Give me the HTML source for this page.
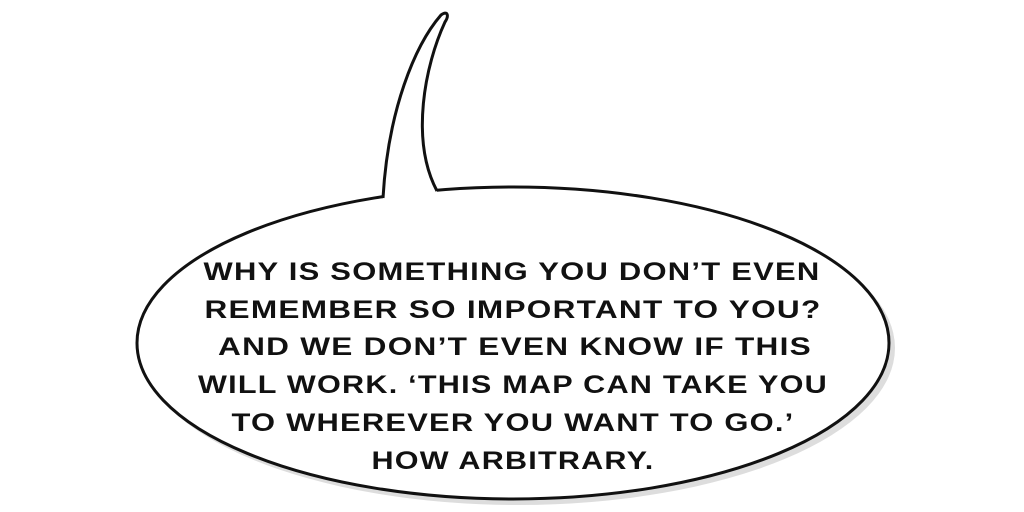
<!DOCTYPE html>
<html><head><meta charset="utf-8"><style>
html,body{margin:0;padding:0;background:#fff;width:1024px;height:512px;overflow:hidden}
svg{display:block}
text{font-family:"Liberation Sans",sans-serif;font-size:25px;font-weight:bold;fill:#111;text-anchor:middle;letter-spacing:1px}
</style></head><body>
<svg width="1024" height="512" viewBox="0 0 1024 512">
  <g>
    <ellipse cx="515" cy="345" rx="377" ry="157" fill="#ddd" transform="translate(3,3)"/>
    <ellipse cx="513" cy="343" rx="376" ry="156" fill="#fff" stroke="#111" stroke-width="3"/>
    <path d="M 383 198 C 388 110, 415 45, 441 15 C 448 10, 449 16, 445 22 C 425 65, 410 140, 437 191 L 437 200 L 383 205 Z" fill="#fff"/>
    <path d="M 383 198 C 388 110, 415 45, 441 15 C 448 10, 449 16, 445 22 C 425 65, 410 140, 437 191" fill="none" stroke="#111" stroke-width="3" stroke-linejoin="round"/>
  </g>
  <g>
    <text x="512" y="280" textLength="617" lengthAdjust="spacingAndGlyphs">WHY IS SOMETHING YOU DON’T EVEN</text>
    <text x="513" y="318" textLength="617" lengthAdjust="spacingAndGlyphs">REMEMBER SO IMPORTANT TO YOU?</text>
    <text x="515" y="355" textLength="594" lengthAdjust="spacingAndGlyphs">AND WE DON’T EVEN KNOW IF THIS</text>
    <text x="513" y="393" textLength="630" lengthAdjust="spacingAndGlyphs">WILL WORK. ‘THIS MAP CAN TAKE YOU</text>
    <text x="513" y="431" textLength="563" lengthAdjust="spacingAndGlyphs">TO WHEREVER YOU WANT TO GO.’</text>
    <text x="513" y="469" textLength="283" lengthAdjust="spacingAndGlyphs">HOW ARBITRARY.</text>
  </g>
</svg>
</body></html>
